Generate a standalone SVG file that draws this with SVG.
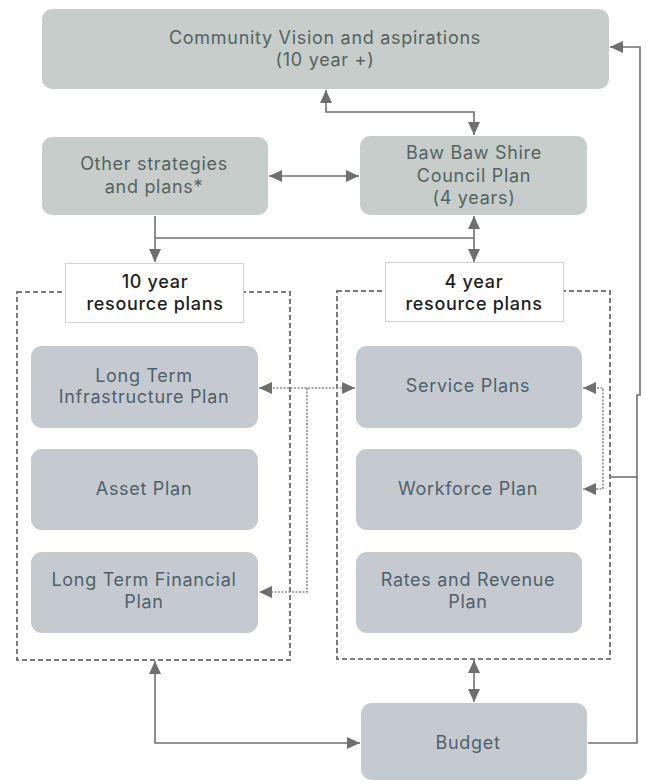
<svg xmlns="http://www.w3.org/2000/svg" width="646" height="782" viewBox="0 0 646 782">
  <defs>
    <marker id="tip" viewBox="0 0 13 12" refX="13" refY="6" markerWidth="13" markerHeight="12" markerUnits="userSpaceOnUse" orient="auto-start-reverse">
      <path d="M0,0 L13,6 L0,12 z" fill="#6f6f6f"/>
    </marker>
    <style>
      .green { fill: #c6cdca; }
      .blue { fill: #c5cad0; }
      .frame { fill: none; stroke: #7a7a7a; stroke-width: 2; stroke-dasharray: 5 3; }
      .tag { fill: #ffffff; stroke: #d2d2d2; stroke-width: 1; }
      .t { font-family: "Inter", "Open Sans", "Liberation Sans", sans-serif; font-size: 18px; letter-spacing: 0.7px; text-anchor: middle; }
      .tg { fill: #55635f; }
      .tb { fill: #50606b; }
      .tk { fill: #1e1e1e; font-weight: 500; }
      .link { fill: none; stroke: #707070; stroke-width: 1.6; }
      .dot { fill: none; stroke: #8a8a8a; stroke-width: 1.6; stroke-dasharray: 2 1.5; }
    </style>
  </defs>

  <rect width="646" height="782" fill="#ffffff"/>

  <!-- resource plan frames -->
  <g id="frame-10yr">
    <rect class="frame" x="17" y="292" width="273" height="368"/>
  </g>
  <g id="frame-4yr">
    <rect class="frame" x="337" y="291" width="273" height="368"/>
  </g>

  <!-- connectors -->
  <g id="connectors">
    <path class="link" d="M326,90 V112 H474 V135" marker-start="url(#tip)" marker-end="url(#tip)"/>
    <path class="link" d="M269,176 H359" marker-start="url(#tip)" marker-end="url(#tip)"/>
    <path class="link" d="M155,216 V262" marker-end="url(#tip)"/>
    <path class="link" d="M155,238 H474"/>
    <path class="link" d="M474,216 V262" marker-start="url(#tip)" marker-end="url(#tip)"/>
    <path class="dot" d="M259,388 H355" marker-start="url(#tip)" marker-end="url(#tip)"/>
    <path class="dot" d="M307,388 V592 H259" marker-end="url(#tip)"/>
    <path class="dot" d="M583,388 H603 V489 H583" marker-start="url(#tip)" marker-end="url(#tip)"/>
    <path class="link" d="M588,743 H637 V395 H640 V47 H610" marker-end="url(#tip)"/>
    <path class="link" d="M611,477 H637"/>
    <path class="link" d="M474,660 V702" marker-start="url(#tip)" marker-end="url(#tip)"/>
    <path class="link" d="M155,661 V743 H360" marker-start="url(#tip)" marker-end="url(#tip)"/>
  </g>

  <g id="community-vision">
    <rect class="green" x="42" y="9" width="567" height="80" rx="10"/>
    <text class="t tg" x="325" y="44">Community Vision and aspirations</text>
    <text class="t tg" x="325" y="66">(10 year +)</text>
  </g>

  <g id="other-strategies">
    <rect class="green" x="42" y="137" width="226" height="78" rx="10"/>
    <text class="t tg" x="154" y="170">Other strategies</text>
    <text class="t tg" x="154" y="193">and plans*</text>
  </g>

  <g id="council-plan">
    <rect class="green" x="360" y="136" width="227" height="79" rx="10"/>
    <text class="t tg" x="474" y="159">Baw Baw Shire</text>
    <text class="t tg" x="474" y="182">Council Plan</text>
    <text class="t tg" x="474" y="204">(4 years)</text>
  </g>

  <g id="label-10yr">
    <rect class="tag" x="65.5" y="263.5" width="178" height="59"/>
    <text class="t tk" x="155" y="288">10 year</text>
    <text class="t tk" x="155" y="310">resource plans</text>
  </g>

  <g id="label-4yr">
    <rect class="tag" x="385.5" y="262.5" width="178" height="59"/>
    <text class="t tk" x="474" y="288">4  year</text>
    <text class="t tk" x="474" y="310">resource plans</text>
  </g>

  <g id="infrastructure-plan">
    <rect class="blue" x="31" y="346" width="227" height="82" rx="11"/>
    <text class="t tb" x="144" y="382">Long Term</text>
    <text class="t tb" x="144" y="403">Infrastructure Plan</text>
  </g>

  <g id="asset-plan">
    <rect class="blue" x="31" y="449" width="227" height="81" rx="11"/>
    <text class="t tb" x="144" y="495">Asset Plan</text>
  </g>

  <g id="financial-plan">
    <rect class="blue" x="31" y="552" width="227" height="81" rx="11"/>
    <text class="t tb" x="144" y="586">Long Term Financial</text>
    <text class="t tb" x="144" y="608">Plan</text>
  </g>

  <g id="service-plans">
    <rect class="blue" x="356" y="346" width="226" height="82" rx="11"/>
    <text class="t tb" x="468" y="392">Service Plans</text>
  </g>

  <g id="workforce-plan">
    <rect class="blue" x="356" y="449" width="226" height="81" rx="11"/>
    <text class="t tb" x="468" y="495">Workforce Plan</text>
  </g>

  <g id="rates-revenue-plan">
    <rect class="blue" x="356" y="552" width="226" height="81" rx="11"/>
    <text class="t tb" x="468" y="586">Rates and Revenue</text>
    <text class="t tb" x="468" y="608">Plan</text>
  </g>

  <g id="budget">
    <rect class="blue" x="361" y="703" width="226" height="77" rx="11"/>
    <text class="t tb" x="468" y="749">Budget</text>
  </g>
</svg>
